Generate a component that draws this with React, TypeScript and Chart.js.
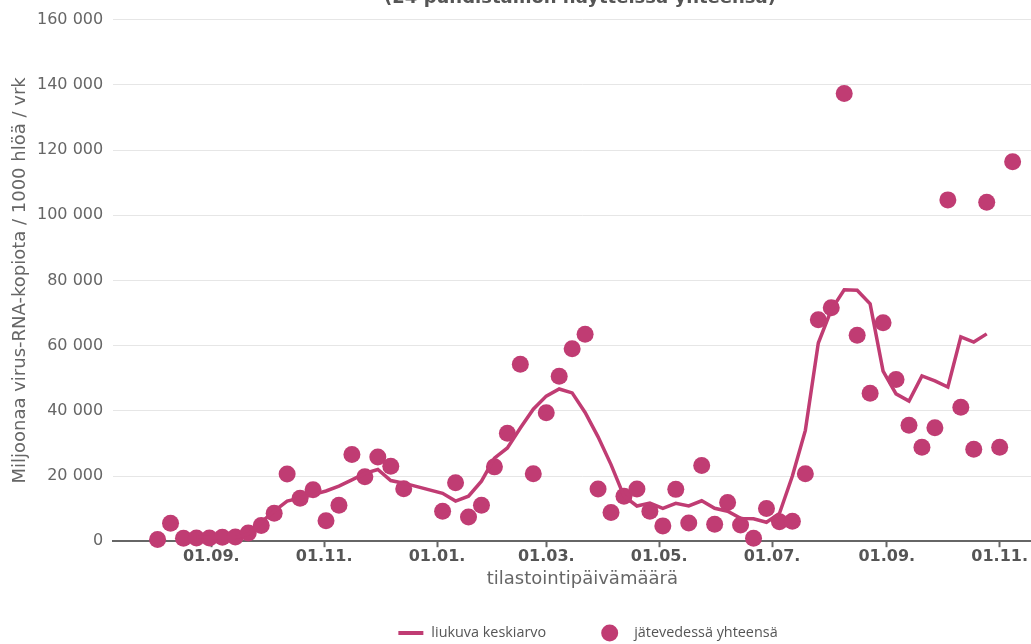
import React, { useEffect, useRef } from 'react';
import { Chart, registerables } from 'chart.js';

Chart.register(...registerables);

// ---- data ----
const chartTitle = '(24 puhdistamon näytteissä yhteensä)';
const xAxisTitle = 'tilastointipäivämäärä';
const yAxisTitle = 'Miljoonaa virus-RNA-kopiota / 1000 hlöä / vrk';
const seriesLabels = ['liukuva keskiarvo', 'jätevedessä yhteensä'];

const sampleDates = [
  '2020-08-03', '2020-08-10', '2020-08-17', '2020-08-24', '2020-08-31', '2020-09-07', '2020-09-14',
  '2020-09-21', '2020-09-28', '2020-10-05', '2020-10-12', '2020-10-19', '2020-10-26', '2020-11-02',
  '2020-11-09', '2020-11-16', '2020-11-23', '2020-11-30', '2020-12-07', '2020-12-14',
  '2021-01-04', '2021-01-11', '2021-01-18', '2021-01-25', '2021-02-01', '2021-02-08', '2021-02-15',
  '2021-02-22', '2021-03-01', '2021-03-08', '2021-03-15', '2021-03-22', '2021-03-29', '2021-04-05',
  '2021-04-12', '2021-04-19', '2021-04-26', '2021-05-03', '2021-05-10', '2021-05-17', '2021-05-24',
  '2021-05-31', '2021-06-07', '2021-06-14', '2021-06-21', '2021-06-28', '2021-07-05', '2021-07-12',
  '2021-07-19', '2021-07-26', '2021-08-02', '2021-08-09', '2021-08-16', '2021-08-23', '2021-08-30',
  '2021-09-06', '2021-09-13', '2021-09-20', '2021-09-27', '2021-10-04', '2021-10-11', '2021-10-18',
  '2021-10-25', '2021-11-01', '2021-11-08',
];
const sampleValues = [
  500, 5500, 900, 1000, 1000, 1200, 1300, 2500, 4800, 8600, 20600, 13200, 15800, 6300, 11000, 26600,
  19800, 25800, 23000, 16100,
  9200, 17900, 7400, 11000, 22800, 33100, 54300, 20700, 39400, 50600, 59000, 63500, 16000, 8800,
  13800, 16000, 9200, 4700, 15900, 5600, 23200, 5200, 11900, 5000, 900, 10000, 6000, 6100, 20700,
  67900, 71600, 137300, 63200, 45400, 67000, 49600, 35600, 28800, 34800, 104700, 41100, 28200,
  104000, 28800, 116400,
];

const avgDates = [
  '2020-08-24', '2020-08-31', '2020-09-07', '2020-09-14', '2020-09-21', '2020-09-28', '2020-10-05',
  '2020-10-12', '2020-10-19', '2020-10-26', '2020-11-02', '2020-11-09', '2020-11-16', '2020-11-23',
  '2020-11-30', '2020-12-07', '2020-12-14',
  '2021-01-04', '2021-01-11', '2021-01-18', '2021-01-25', '2021-02-01', '2021-02-08', '2021-02-15',
  '2021-02-22', '2021-03-01', '2021-03-08', '2021-03-15', '2021-03-22', '2021-03-29', '2021-04-05',
  '2021-04-12', '2021-04-19', '2021-04-26', '2021-05-03', '2021-05-10', '2021-05-17', '2021-05-24',
  '2021-05-31', '2021-06-07', '2021-06-14', '2021-06-21', '2021-06-28', '2021-07-05', '2021-07-12',
  '2021-07-19', '2021-07-26', '2021-08-02', '2021-08-09', '2021-08-16', '2021-08-23', '2021-08-30',
  '2021-09-06', '2021-09-13', '2021-09-20', '2021-09-27', '2021-10-04', '2021-10-11', '2021-10-18',
  '2021-10-25',
];
const avgValues = [
  1400, 1200, 1100, 1100, 2200, 5800, 9200, 12300, 13200, 14300, 15400, 16900, 18800, 20800, 22000,
  18600, 17800,
  14700, 12300, 13800, 18400, 25500, 28600, 34700, 40500, 44500, 46700, 45500, 39500, 32000, 23500,
  13800, 10800, 11700, 10100, 11600, 10800, 12400, 10100, 9200, 7000, 6900, 5800, 8500, 20000, 34000,
  60800, 71000, 77100, 77000, 72800, 52200, 45200, 43000, 50700, 49200, 47300, 62700, 61100, 63600,
];

const xTickDates = [
  '2020-09-01', '2020-11-01', '2021-01-01', '2021-03-01', '2021-05-01', '2021-07-01', '2021-09-01',
  '2021-11-01',
];
const xRangeDates = ['2020-07-10', '2021-11-29'];
const yMin = 0;
const yMax = 160000;
const yStep = 20000;

// ---- helpers ----
const BASE = Date.UTC(2020, 8, 1);
const DAY = 86400000;
const dayOf = (s: string) => {
  const [y, m, d] = s.split('-').map(Number);
  return (Date.UTC(y, m - 1, d) - BASE) / DAY;
};
const fmtDay = (v: number) => {
  const dt = new Date(BASE + Math.round(v) * DAY);
  const dd = String(dt.getUTCDate()).padStart(2, '0');
  const mm = String(dt.getUTCMonth() + 1).padStart(2, '0');
  return `${dd}.${mm}.`;
};
const fmtNum = (v: number) => String(v).replace(/\B(?=(\d{3})+(?!\d))/g, ' ');

const COLOR = '#c03c73';

const overlayPlugin = {
  id: 'overlay',
  afterDraw(chart: any) {
    const { ctx, chartArea } = chart;
    ctx.save();
    // title (cropped at top in the reference)
    ctx.font = 'bold 18px "DejaVu Sans"';
    ctx.fillStyle = '#555';
    ctx.textAlign = 'center';
    ctx.textBaseline = 'alphabetic';
    ctx.fillText(chartTitle, 580, 3);

    // legend
    ctx.font = '14.4px "Open Sans"';
    const t1 = ctx.measureText(seriesLabels[0]).width;
    const t2 = ctx.measureText(seriesLabels[1]).width;
    const swW = 25, gap1 = 8, itemGap = 55, circD = 17, gap2 = 16;
    const total = swW + gap1 + t1 + itemGap + circD + gap2 + t2;
    let x = 588 - total / 2;
    const y = 633;
    ctx.strokeStyle = COLOR;
    ctx.lineWidth = 4;
    ctx.beginPath();
    ctx.moveTo(x, y);
    ctx.lineTo(x + swW, y);
    ctx.stroke();
    x += swW + gap1;
    ctx.fillStyle = '#555';
    ctx.textAlign = 'left';
    ctx.textBaseline = 'middle';
    ctx.fillText(seriesLabels[0], x, y);
    x += t1 + itemGap;
    ctx.fillStyle = COLOR;
    ctx.beginPath();
    ctx.arc(x + circD / 2, y, circD / 2, 0, Math.PI * 2);
    ctx.fill();
    x += circD + gap2;
    ctx.fillStyle = '#555';
    ctx.fillText(seriesLabels[1], x, y);
    ctx.restore();
  },
};

export default function App() {
  const ref = useRef<HTMLCanvasElement | null>(null);

  useEffect(() => {
    if (!ref.current) return;
    const chart = new Chart(ref.current, {
      type: 'scatter',
      data: {
        datasets: [
          {
            type: 'line',
            label: seriesLabels[0],
            data: avgDates.map((d, i) => ({ x: dayOf(d), y: avgValues[i] })),
            borderColor: COLOR,
            backgroundColor: COLOR,
            borderWidth: 3.5,
            pointRadius: 0,
            tension: 0,
            fill: false,
          } as any,
          {
            type: 'scatter',
            label: seriesLabels[1],
            data: sampleDates.map((d, i) => ({ x: dayOf(d), y: sampleValues[i] })),
            backgroundColor: COLOR,
            borderColor: COLOR,
            borderWidth: 0,
            pointRadius: 8.5,
            clip: false,
          } as any,
        ],
      },
      options: {
        responsive: false,
        animation: false,
        layout: { padding: { left: 6, top: 19, right: 0, bottom: 54 } },
        plugins: {
          legend: { display: false },
          title: { display: false },
          tooltip: { enabled: false },
        },
        scales: {
          x: {
            type: 'linear',
            min: dayOf(xRangeDates[0]),
            max: dayOf(xRangeDates[1]),
            afterBuildTicks: (scale: any) => {
              scale.ticks = xTickDates.map((d) => ({ value: dayOf(d) }));
            },
            border: { display: true, color: '#666', width: 2 },
            grid: {
              drawOnChartArea: false,
              drawTicks: true,
              tickLength: 6,
              tickColor: '#666',
              tickWidth: 2,
            },
            ticks: {
              autoSkip: false,
              maxRotation: 0,
              padding: 0,
              color: '#555',
              font: { family: 'DejaVu Sans', size: 16, weight: 'bold' },
              callback: (v: any) => fmtDay(Number(v)),
            },
            title: {
              display: true,
              text: xAxisTitle,
              color: '#666',
              font: { family: 'DejaVu Sans', size: 18 },
              padding: { top: 2, bottom: 0 },
            },
          },
          y: {
            type: 'linear',
            min: yMin,
            max: yMax,
            border: { display: false },
            grid: { color: '#e6e6e6', lineWidth: 1, drawTicks: false },
            ticks: {
              stepSize: yStep,
              padding: 10,
              color: '#666',
              font: { family: 'DejaVu Sans', size: 16 },
              callback: (v: any) => fmtNum(Number(v)),
            },
            title: {
              display: true,
              text: yAxisTitle,
              color: '#666',
              font: { family: 'DejaVu Sans', size: 18 },
              padding: { top: 4, bottom: -4.6 },
            },
          },
        },
      } as any,
      plugins: [overlayPlugin],
    });
    return () => chart.destroy();
  }, []);

  return (
    <div
      style={{
        position: 'fixed',
        left: 0,
        top: 0,
        width: 1031,
        height: 644,
        overflow: 'hidden',
        background: '#fff',
      }}
    >
      <canvas ref={ref} width={1060} height={644} style={{ display: 'block' }} />
    </div>
  );
}
